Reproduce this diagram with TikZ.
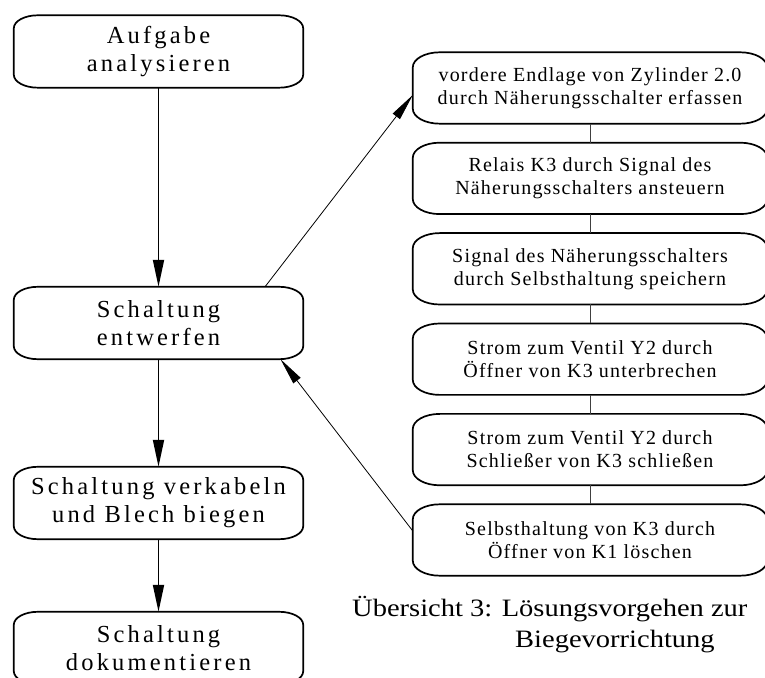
\documentclass[tikz,border=0pt]{standalone}
\usepackage{fontspec}
\setmainfont{Liberation Serif}
\newfontfamily\stepfont[LetterSpace=13]{Liberation Serif}
\newfontfamily\taskfont[LetterSpace=6]{Liberation Serif}
\newfontfamily\captionfont[FakeStretch=1.14]{Liberation Serif}
\usetikzlibrary{arrows.meta,positioning}
\tikzset{>={Triangle[length=27pt,width=11pt]}}

% outline with elliptic corners round a named node
\newcommand\ovalframe[3]{%
  \draw[boxline] ([xshift=#2]#1.north west) -- ([xshift=-#2]#1.north east)
    arc[start angle=90,end angle=0,x radius=#2,y radius=#3]
    -- ([yshift=#3]#1.south east)
    arc[start angle=0,end angle=-90,x radius=#2,y radius=#3]
    -- ([xshift=#2]#1.south west)
    arc[start angle=270,end angle=180,x radius=#2,y radius=#3]
    -- ([yshift=-#3]#1.north west)
    arc[start angle=180,end angle=90,x radius=#2,y radius=#3] -- cycle;}

\begin{document}
\begin{tikzpicture}[x=1pt,y=1pt,
    stepbox/.style={minimum width=289pt, minimum height=72pt, inner sep=0pt,
      align=center, font=\stepfont\fontsize{24.5}{28}\selectfont},
    taskbox/.style={minimum width=354pt, minimum height=71pt, inner sep=0pt,
      align=center, font=\taskfont\fontsize{20}{23}\selectfont},
    boxline/.style={line width=1.7pt},
    flow/.style={->, line width=1.8pt},
    jump/.style={-{Triangle[length=27pt,width=9pt]}, line width=0.8pt},
    link/.style={line width=0.8pt, black!75}]
  \useasboundingbox (0,0) rectangle (765,677);
  % left column
  \node[stepbox] (analyse) at (158.5,625.5) {Aufgabe\\analysieren};
  \node[stepbox] (entwurf) at (158.5,354) {Schaltung\\entwerfen};
  \node[stepbox] (verkabeln) at (158.5,174) {Schaltung verkabeln\\und Blech biegen};
  \node[stepbox] (doku) at (158.5,29) {Schaltung\\dokumentieren};
  \foreach \n in {analyse,entwurf,verkabeln,doku} {\ovalframe{\n}{24pt}{13pt}}
  % right column
  \node[taskbox] (t1) at (590,589) {vordere Endlage von Zylinder 2.0\\durch Näherungsschalter erfassen};
  \node[taskbox, below=19pt of t1] (t2) {Relais K3 durch Signal des\\Näherungsschalters ansteuern};
  \node[taskbox, below=19pt of t2] (t3) {Signal des Näherungsschalters\\durch Selbsthaltung speichern};
  \node[taskbox, below=19pt of t3] (t4) {Strom zum Ventil Y2 durch\\Öffner von K3 unterbrechen};
  \node[taskbox, below=19pt of t4] (t5) {Strom zum Ventil Y2 durch\\Schließer von K3 schließen};
  \node[taskbox, below=19pt of t5] (t6) {Selbsthaltung von K3 durch\\Öffner von K1 löschen};
  \foreach \n in {t1,t2,t3,t4,t5,t6} {\ovalframe{\n}{27pt}{15pt}}
  \foreach \a/\b in {t1/t2,t2/t3,t3/t4,t4/t5,t5/t6} {\draw[link] (\a) -- (\b);}
  % arrows
  \draw[flow] (analyse) -- (entwurf);
  \draw[flow] (entwurf) -- (verkabeln);
  \draw[flow] (verkabeln) -- (doku);
  \draw[jump] ([xshift=106.5pt]entwurf.north) -- ([yshift=-7pt]t1.west);
  \draw[jump] ([yshift=9pt]t6.west) -- ([xshift=122pt]entwurf.south);
  % caption
  \node[anchor=north west, inner sep=0pt, align=left,
    font=\captionfont\fontsize{25}{31}\selectfont] (title) at (352,81)
    {Übersicht 3: Lösungsvorgehen zur\\\hspace*{163pt}Biegevorrichtung};
\end{tikzpicture}
\end{document}
